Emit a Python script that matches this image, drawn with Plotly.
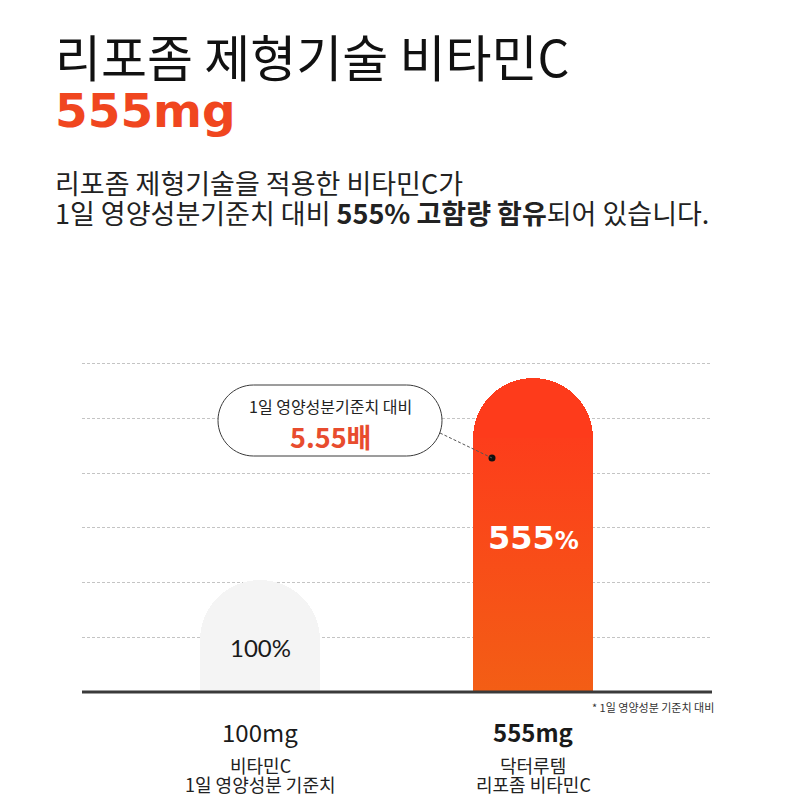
import plotly.graph_objects as go

# ---------------- data ----------------
categories = [["비타민C", "1일 영양성분 기준치"], ["닥터루템", "리포좀 비타민C"]]
amounts = ["100mg", "555mg"]
amount_bold = [False, True]
percent_labels = ["100%", "555%"]
percent_values = [100, 555]
bar_heights = [2.05, 5.74]          # visual bar heights (grid-line units)
bar_colors = ["#F4F4F4", "#FE3B1B"]
grad_colors = ["#F35E15", "#FD3D1B"]  # bottom -> top of the highlighted bar
x_pos = [0, 1]

title_line = "리포좀 제형기술 비타민C"
title_value = "555mg"
sub_line1 = "리포좀 제형기술을 적용한 비타민C가"
sub_line2 = "1일 영양성분기준치 대비 <b>555% 고함량 함유</b>되어 있습니다."
bubble_line1 = "1일 영양성분기준치 대비"
bubble_line2 = "5.55배"
footnote = "* 1일 영양성분 기준치 대비"

# ---------------- layout geometry (reference pixels) ----------------
W, H = 800, 800
OFF = 8                  # page body margin in the screenshot
L, R, T = 82, 712, 330
BASE = 692               # pixel row of y = 0
PB = 698                 # plot bottom
UNIT = 54.7              # pixels per y unit (grid spacing)
XS = 273                 # pixels per x unit (bar spacing)
X0PX = 260               # pixel column of x = 0
PW, PH = R - L, PB - T
Y_MIN = -(PB - BASE) / UNIT
Y_MAX = (BASE - T) / UNIT
X_MIN = -(X0PX - L) / XS
X_MAX = (R - X0PX) / XS
BAR_W = 120 / XS


def px(x):
    return (x - L) / PW


def py(y):
    return (PB - y) / PH


def dx(x):
    return (x - X0PX) / XS


def dy(y):
    return (BASE - y) / UNIT


KR = "Noto Sans CJK KR"
fig = go.Figure()

# bars with rounded tops
fig.add_bar(
    x=x_pos, y=bar_heights, width=BAR_W,
    marker=dict(color=bar_colors, cornerradius="50%", line=dict(width=0)),
    hoverinfo="skip", showlegend=False,
)

# vertical gradient on the highlighted bar's straight section
r_units = (BAR_W * XS / 2) / UNIT
top_rect = bar_heights[1] - r_units
xl, xr = x_pos[1] - BAR_W / 2, x_pos[1] + BAR_W / 2
fig.add_scatter(
    x=[xl, xr, xr, xl, xl], y=[0, 0, top_rect, top_rect, 0],
    fill="toself", mode="lines", line=dict(width=0),
    fillgradient=dict(type="vertical",
                      colorscale=[[0, grad_colors[0]], [1, grad_colors[1]]]),
    hoverinfo="skip", showlegend=False,
)

# dot on the bar
fig.add_scatter(
    x=[dx(492)], y=[dy(458)], mode="markers",
    marker=dict(color="#111111", size=7), hoverinfo="skip", showlegend=False,
)

shapes = []
# baseline
shapes.append(dict(type="line", xref="paper", yref="y", x0=0, x1=1, y0=0, y1=0,
                   line=dict(color="#3A3A3A", width=3), layer="above"))
# connector
shapes.append(dict(type="line", xref="x", yref="y", x0=dx(440), y0=dy(433),
                   x1=dx(492), y1=dy(458),
                   line=dict(color="#555555", width=1, dash="3px,2px"), layer="above"))
# pill bubble
hw, hh = 112, 35.5
k = 0.5523 * hh
s = hw - hh
path = (f"M {-s},{hh} L {s},{hh} "
        f"C {s + k},{hh} {hw},{k} {hw},0 "
        f"C {hw},{-k} {s + k},{-hh} {s},{-hh} "
        f"L {-s},{-hh} "
        f"C {-s - k},{-hh} {-hw},{-k} {-hw},0 "
        f"C {-hw},{k} {-s - k},{hh} {-s},{hh} Z")
shapes.append(dict(type="path", xref="x", yref="y", xsizemode="pixel", ysizemode="pixel",
                   xanchor=dx(330), yanchor=dy(420.5), path=path,
                   line=dict(color="#3A3A3A", width=1), fillcolor="white", layer="above"))

ann = []
# title block
ann.append(dict(text=title_line, x=px(53), y=py(55), xanchor="left",
                font=dict(family=KR, size=50, color="#111111")))
ann.append(dict(text=f"<b>{title_value}</b>", x=px(53), y=py(110), xanchor="left",
                font=dict(family="DejaVu Sans", size=47, color="#F0461F")))
ann.append(dict(text=sub_line1, x=px(53), y=py(182), xanchor="left",
                font=dict(family=KR, size=27, color="#222222")))
ann.append(dict(text=sub_line2, x=px(53), y=py(212), xanchor="left",
                font=dict(family=KR, size=27, color="#222222")))
for a in ann:
    a.update(xref="paper", yref="paper", showarrow=False, yanchor="middle")

# bubble text
ann.append(dict(text=bubble_line1, xref="x", yref="y", x=dx(330), y=dy(406),
                showarrow=False, yanchor="middle",
                font=dict(family=KR, size=16, color="#222222")))
ann.append(dict(text=f"<b>{bubble_line2}</b>", xref="x", yref="y", x=dx(330), y=dy(436),
                showarrow=False, yanchor="middle",
                font=dict(family=KR, size=27, color="#E84C2E")))

# inner bar labels
ann.append(dict(text=percent_labels[0], xref="x", yref="y", x=x_pos[0], y=dy(647),
                showarrow=False, yanchor="middle",
                font=dict(family="Lato", size=24, color="#1A1A1A")))
ann.append(dict(text=f"<b>{percent_labels[1][:-1]}<span style='font-size:24px'>%</span></b>",
                xref="x", yref="y", x=x_pos[1], y=dy(538),
                showarrow=False, yanchor="middle",
                font=dict(family="DejaVu Sans", size=32, color="white")))

# category labels below
for i in range(len(x_pos)):
    t = f"<b>{amounts[i]}</b>" if amount_bold[i] else amounts[i]
    ann.append(dict(text=t, xref="x", yref="paper", x=x_pos[i], y=py(731),
                    showarrow=False, yanchor="middle",
                    font=dict(family=KR, size=24, color="#1A1A1A")))
    for j, line in enumerate(categories[i]):
        ann.append(dict(text=line, xref="x", yref="paper", x=x_pos[i], y=py(765 + 19 * j),
                        showarrow=False, yanchor="middle",
                        font=dict(family=KR, size=18, color="#222222")))

# footnote
ann.append(dict(text=footnote, xref="paper", yref="paper", x=px(716), y=py(707),
                xanchor="right", yanchor="middle", showarrow=False,
                font=dict(family=KR, size=11, color="#333333")))

fig.update_layout(
    width=W, height=H,
    margin=dict(l=L - OFF, r=W - R + OFF, t=T - OFF, b=H - PB + OFF, pad=0),
    paper_bgcolor="white", plot_bgcolor="white",
    showlegend=False,
    xaxis=dict(range=[X_MIN, X_MAX], showgrid=False, zeroline=False,
               showticklabels=False, showline=False, fixedrange=True),
    yaxis=dict(range=[Y_MIN, Y_MAX], dtick=1, tick0=0, showgrid=True,
               gridcolor="#C4C4C4", gridwidth=1, griddash="3px,2px",
               zeroline=False, showticklabels=False, showline=False, fixedrange=True),
    shapes=shapes, annotations=ann,
    bargap=0,
)

fig.write_html("out.html")
